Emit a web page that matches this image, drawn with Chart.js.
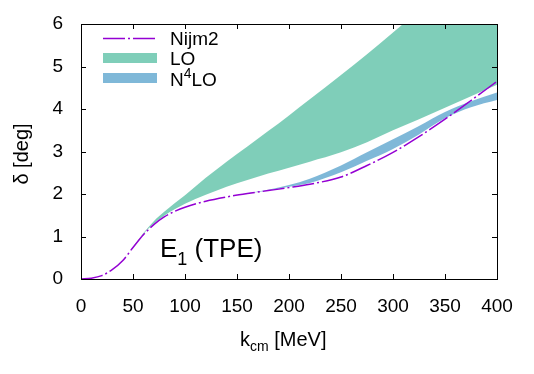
<!DOCTYPE html>
<html>
<head>
<meta charset="utf-8">
<script src="https://cdn.jsdelivr.net/npm/chart.js@4/dist/chart.umd.min.js"></script>
<style>
  html, body { margin: 0; padding: 0; background: #fff; }
  #wrap { width: 534px; height: 374px; }
</style>
</head>
<body>
<div id="wrap"><canvas id="phaseChart" width="534" height="374"></canvas></div>
<script>
// k_cm grid (MeV) and phase shifts (deg)
const kcm       = [0, 10, 20, 30, 40, 50, 60, 70, 80, 90, 100, 120, 140, 160, 180, 200, 220, 250, 275, 300, 325, 350, 375, 400];
const nijm2     = [0, 0.02, 0.08, 0.22, 0.43, 0.74, 1.04, 1.28, 1.46, 1.59, 1.69, 1.83, 1.93, 2.01, 2.08, 2.15, 2.23, 2.40, 2.67, 2.98, 3.35, 3.76, 4.20, 4.65];
const loUpper   = [0, 0.02, 0.08, 0.22, 0.44, 0.75, 1.08, 1.36, 1.58, 1.78, 1.97, 2.38, 2.76, 3.12, 3.48, 3.85, 4.23, 4.80, 5.29, 5.80, 6.32, 6.85, 7.40, 7.95];
const loLower   = [0, 0.02, 0.08, 0.22, 0.44, 0.74, 1.06, 1.30, 1.49, 1.64, 1.77, 1.98, 2.17, 2.33, 2.48, 2.62, 2.76, 2.98, 3.22, 3.50, 3.76, 4.03, 4.30, 4.57];
const n4loUpper = [0, 0.02, 0.08, 0.22, 0.43, 0.74, 1.04, 1.28, 1.46, 1.59, 1.69, 1.83, 1.93, 2.02, 2.10, 2.21, 2.36, 2.67, 2.98, 3.29, 3.60, 3.93, 4.18, 4.39];
const n4loLower = [0, 0.02, 0.08, 0.22, 0.43, 0.74, 1.04, 1.28, 1.46, 1.59, 1.69, 1.83, 1.93, 2.01, 2.08, 2.17, 2.26, 2.51, 2.78, 3.06, 3.40, 3.78, 4.04, 4.21];

const FONT = '"Liberation Sans", Arial, sans-serif';
const purple = "#9400d3";
const green = "rgba(0, 158, 115, 0.5)";
const blue = "rgba(0, 114, 178, 0.5)";
const dashDot = [22, 3, 2, 3];

const pts = (ys) => kcm.map((x, i) => ({ x: x, y: ys[i] }));

// draw a run of text pieces (for sub/superscripts)
function drawRich(ctx, x, y, parts) {
    parts.forEach((p) => {
        ctx.font = p.size + "px " + FONT;
        ctx.fillText(p.text, x, y + (p.dy || 0));
        x += ctx.measureText(p.text).width;
    });
}

const decorPlugin = {
    id: "decor",
    afterDraw(chart) {
        const ctx = chart.ctx;
        const a = chart.chartArea;
        const xs = chart.scales.x, ys = chart.scales.y;
        ctx.save();
        ctx.strokeStyle = "#000";
        ctx.lineWidth = 1;
        // border box
        ctx.strokeRect(Math.round(a.left) + 0.5, Math.round(a.top) + 0.5,
            Math.round(a.right - a.left), Math.round(a.bottom - a.top));
        // inward ticks on all four sides
        const tl = 5;
        ctx.beginPath();
        xs.ticks.forEach((t) => {
            const px = Math.round(xs.getPixelForValue(t.value)) + 0.5;
            ctx.moveTo(px, a.bottom); ctx.lineTo(px, a.bottom - tl);
            ctx.moveTo(px, a.top); ctx.lineTo(px, a.top + tl);
        });
        ys.ticks.forEach((t) => {
            const py = Math.round(ys.getPixelForValue(t.value)) + 0.5;
            ctx.moveTo(a.left, py); ctx.lineTo(a.left + tl, py);
            ctx.moveTo(a.right, py); ctx.lineTo(a.right - tl, py);
        });
        ctx.stroke();

        ctx.fillStyle = "#000";
        ctx.textBaseline = "alphabetic";
        ctx.textAlign = "left";

        // legend
        const lx0 = 103, lx1 = 157, tx = 170;
        ctx.strokeStyle = purple;
        ctx.lineWidth = 1.5;
        ctx.setLineDash(dashDot);
        ctx.beginPath();
        ctx.moveTo(lx0, 38.5); ctx.lineTo(lx1, 38.5);
        ctx.stroke();
        ctx.setLineDash([]);
        ctx.fillStyle = green;
        ctx.fillRect(lx0, 53, lx1 - lx0, 10);
        ctx.fillStyle = blue;
        ctx.fillRect(lx0, 73, lx1 - lx0, 10);
        ctx.fillStyle = "#000";
        drawRich(ctx, tx, 45, [{ text: "Nijm2", size: 19 }]);
        drawRich(ctx, tx, 65, [{ text: "LO", size: 19 }]);
        drawRich(ctx, tx, 86, [{ text: "N", size: 19 }, { text: "4", size: 14, dy: -8 }, { text: "LO", size: 19 }]);

        // in-plot label
        drawRich(ctx, 160, 257, [{ text: "E", size: 26 }, { text: "1", size: 18, dy: 8 },
            { text: " (TPE)", size: 26 }]);

        // x axis title
        drawRich(ctx, 240, 346, [{ text: "k", size: 20 }, { text: "cm", size: 14, dy: 5 },
            { text: " [MeV]", size: 20 }]);

        // y axis title
        ctx.save();
        ctx.translate(28, 154);
        ctx.rotate(-Math.PI / 2);
        ctx.textAlign = "center";
        ctx.font = "20px " + FONT;
        ctx.fillText("δ [deg]", 0, 0);
        ctx.restore();

        ctx.restore();
    },
};

const ctxEl = document.getElementById("phaseChart").getContext("2d");

const phaseChart = new Chart(ctxEl, {
    type: "line",
    data: {
        datasets: [
            {
                label: "Nijm2",
                data: pts(nijm2),
                borderColor: purple,
                borderWidth: 1.5,
                borderDash: dashDot,
                pointRadius: 0,
                fill: false,
            },
            {
                label: "LO",
                data: pts(loUpper),
                borderWidth: 0,
                borderColor: "rgba(0,0,0,0)",
                backgroundColor: green,
                pointRadius: 0,
                fill: "+1",
            },
            {
                label: "LO lower",
                data: pts(loLower),
                borderWidth: 0,
                borderColor: "rgba(0,0,0,0)",
                pointRadius: 0,
                fill: false,
            },
            {
                label: "N4LO",
                data: pts(n4loUpper),
                borderWidth: 0,
                borderColor: "rgba(0,0,0,0)",
                backgroundColor: blue,
                pointRadius: 0,
                fill: "+1",
            },
            {
                label: "N4LO lower",
                data: pts(n4loLower),
                borderWidth: 0,
                borderColor: "rgba(0,0,0,0)",
                pointRadius: 0,
                fill: false,
            },
        ],
    },
    options: {
        responsive: false,
        animation: false,
        cubicInterpolationMode: "monotone",
        layout: { padding: { top: 24, right: 37, left: 0, bottom: 0 } },
        plugins: {
            legend: { display: false },
            tooltip: { enabled: false },
        },
        scales: {
            x: {
                type: "linear",
                min: 0,
                max: 400,
                grid: { display: false },
                border: { display: false },
                ticks: { stepSize: 50, color: "#000", padding: 8, font: { family: FONT, size: 19 } },
                afterFit: (s) => { s.height = 95; },
            },
            y: {
                min: 0,
                max: 6,
                grid: { display: false },
                border: { display: false },
                ticks: { stepSize: 1, color: "#000", padding: 10, font: { family: FONT, size: 19 } },
                afterFit: (s) => { s.width = 81; },
            },
        },
    },
    plugins: [decorPlugin],
});
</script>
</body>
</html>
